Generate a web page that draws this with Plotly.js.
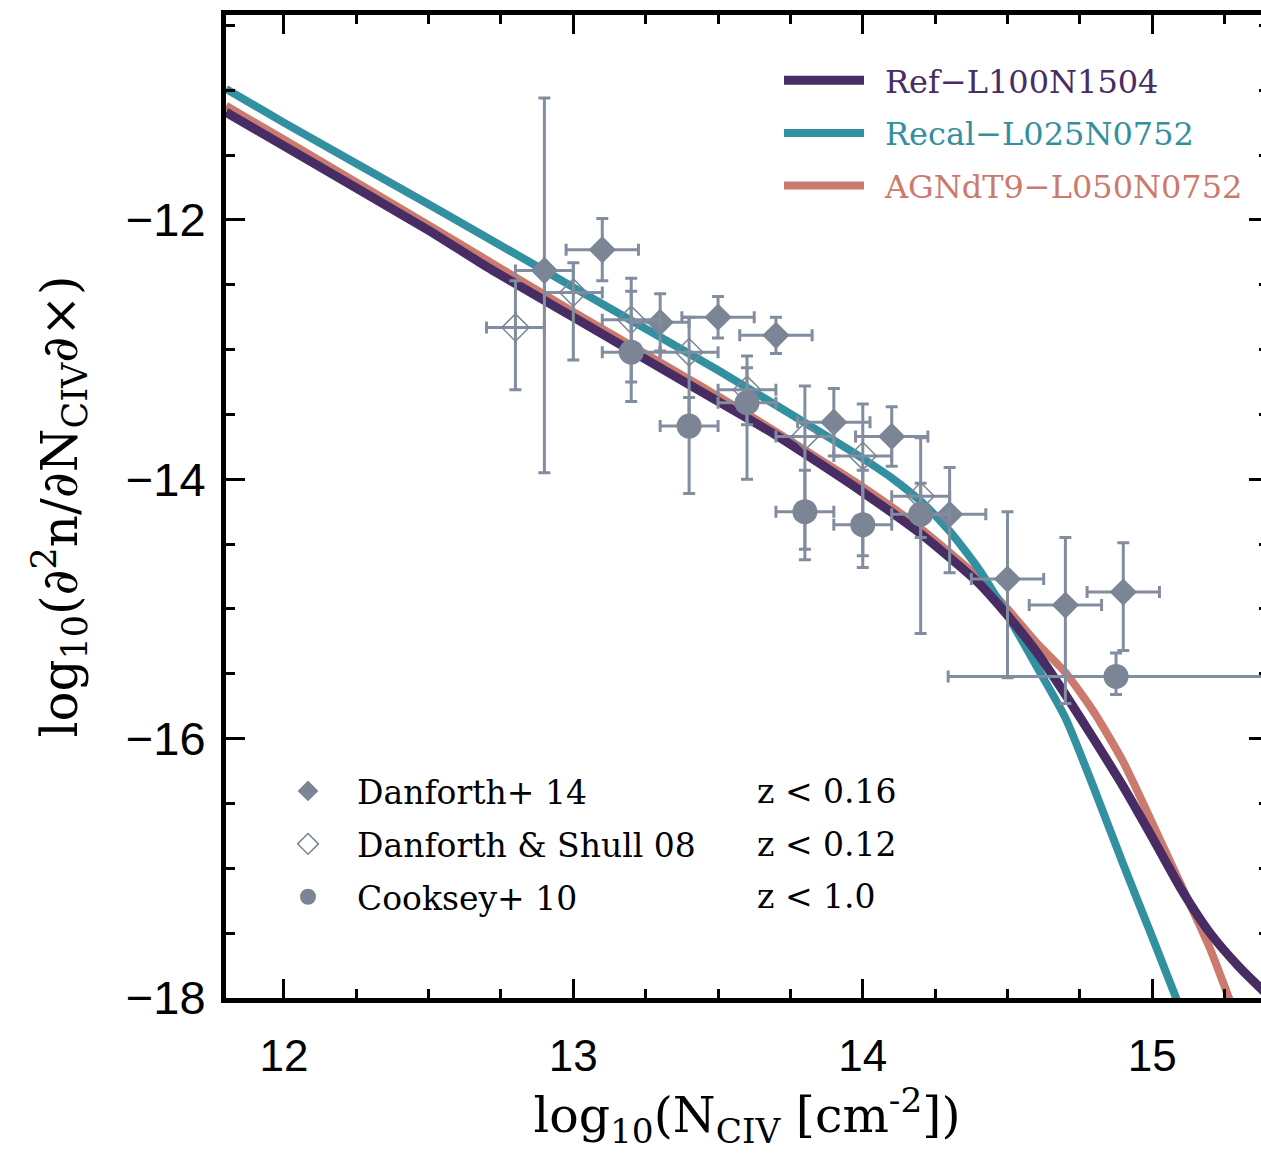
<!DOCTYPE html>
<html>
<head>
<meta charset="utf-8">
<script src="https://cdn.plot.ly/plotly-3.0.1.min.js"></script>
<style>
html, body { margin:0; padding:0; overflow:hidden; background:#fff; }
#chart { width:1275px; height:1160px; }
</style>
</head>
<body>
<div id="chart"></div>
<script>
// ---- model curves ----
const refX = [11.8, 12.0, 12.5, 12.7, 13.0, 13.4, 13.7, 13.9, 14.0, 14.2, 14.4, 14.5, 14.6, 14.7, 14.8, 14.9, 15.0, 15.1, 15.2, 15.3, 15.4];
const refY = [-11.17, -11.43, -12.08, -12.36, -12.75, -13.27, -13.66, -13.95, -14.10, -14.42, -14.80, -15.05, -15.33, -15.66, -16.01, -16.37, -16.76, -17.16, -17.50, -17.76, -17.98];

const recalX = [11.8, 12.0, 12.5, 12.9, 13.0, 13.5, 13.9, 14.0, 14.1, 14.2, 14.3, 14.4, 14.5, 14.6, 14.7, 14.8, 14.9, 15.0, 15.1];
const recalY = [-10.99, -11.25, -11.88, -12.39, -12.52, -13.16, -13.70, -13.84, -13.99, -14.17, -14.40, -14.69, -15.05, -15.44, -15.84, -16.39, -16.97, -17.53, -18.10];

const agnX = [11.8, 12.0, 12.5, 13.0, 13.5, 14.0, 14.2, 14.4, 14.5, 14.6, 14.7, 14.8, 14.9, 15.0, 15.1, 15.2, 15.26, 15.3];
const agnY = [-11.12, -11.38, -12.04, -12.71, -13.36, -14.06, -14.38, -14.76, -15.00, -15.26, -15.49, -15.80, -16.18, -16.65, -17.13, -17.62, -17.97, -18.20];

// ---- observations ----
const danf14X = [12.9, 13.1, 13.3, 13.5, 13.7, 13.9, 14.1, 14.3, 14.5, 14.7, 14.9];
const danf14Y = [-12.39, -12.23, -12.79, -12.75, -12.89, -13.56, -13.67, -14.27, -14.77, -14.97, -14.87];
const danf14Yup = [1.33, 0.24, 0.22, 0.16, 0.14, 0.26, 0.23, 0.36, 0.52, 0.52, 0.38];
const danf14Ylo = [1.56, 0.24, 0.22, 0.16, 0.14, 0.26, 0.23, 0.45, 0.76, 0.76, 0.45];
const danf14Xerr = [0.1, 0.125, 0.1, 0.125, 0.125, 0.125, 0.125, 0.125, 0.125, 0.125, 0.125];

const ds08X = [12.8, 13.0, 13.2, 13.4, 13.6, 13.8, 14.0, 14.2];
const ds08Y = [-12.83, -12.56, -12.77, -13.02, -13.31, -13.67, -13.82, -14.13];
const ds08Yup = [0.36, 0.23, 0.22, 0.27, 0.17, 0.39, 0.40, 0.10];
const ds08Ylo = [0.48, 0.52, 0.48, 0.50, 0.27, 0.95, 0.77, 0.32];
const ds08Xerr = [0.1, 0.1, 0.1, 0.1, 0.1, 0.1, 0.1, 0.1];

const cookX = [13.2, 13.4, 13.6, 13.8, 14.0, 14.2, 14.875];
const cookY = [-13.02, -13.59, -13.41, -14.25, -14.35, -14.27, -15.52];
const cookYup = [0.57, 0.22, 0.36, 0.32, 0.42, 0.59, 0.18];
const cookYlo = [0.38, 0.52, 0.59, 0.29, 0.33, 0.92, 0.14];
const cookXerr = [0.1, 0.1, 0.1, 0.1, 0.1, 0.1, 0.58];

// ---- labels ----
const modelNames = ['Ref\u2212L100N1504', 'Recal\u2212L025N0752', 'AGNdT9\u2212L050N0752'];
const obsNames = ['Danforth+ 14', 'Danforth &amp; Shull 08', 'Cooksey+ 10'];
const obsRedshift = ['z &lt; 0.16', 'z &lt; 0.12', 'z &lt; 1.0'];
const xTickVals = [12, 13, 14, 15];
const yTickVals = [-18, -16, -14, -12];

const cRef = '#472d63', cRecal = '#3390a1', cAgn = '#cc7a6d';
const cObs = '#7b8596', cErr = '#838da0';
const serif = 'DejaVu Serif';

function colored(name, c) { return '<span style="color:' + c + '">\u2002' + name + '</span>'; }

function obsTrace(x, y, up, lo, xe, name, symbol, size, group) {
  return {
    x: x, y: y, type: 'scatter', mode: 'markers', name: name,
    legend: 'legend2', legendgroup: group,
    marker: { symbol: symbol, size: size, color: cObs, line: { color: cObs, width: symbol.indexOf('open') >= 0 ? 1.5 : 0 } },
    error_y: { type: 'data', symmetric: false, array: up, arrayminus: lo, color: cErr, thickness: 3, width: 6 },
    error_x: { type: 'data', array: xe, color: cErr, thickness: 3, width: 6 },
    hoverinfo: 'x+y'
  };
}

const traces = [
  { x: agnX, y: agnY, type: 'scatter', mode: 'lines', name: colored(modelNames[2], cAgn), legendrank: 3, legendgroup: 'a',
    line: { color: cAgn, width: 8, shape: 'spline', smoothing: 0.6 } },
  { x: recalX, y: recalY, type: 'scatter', mode: 'lines', name: colored(modelNames[1], cRecal), legendrank: 2, legendgroup: 'b',
    line: { color: cRecal, width: 8, shape: 'spline', smoothing: 0.6 } },
  { x: refX, y: refY, type: 'scatter', mode: 'lines', name: colored(modelNames[0], cRef), legendrank: 1, legendgroup: 'c',
    line: { color: cRef, width: 9, shape: 'spline', smoothing: 0.6 } },
  obsTrace(danf14X, danf14Y, danf14Yup, danf14Ylo, danf14Xerr, obsNames[0], 'diamond', 21, 'd'),
  obsTrace(ds08X, ds08Y, ds08Yup, ds08Ylo, ds08Xerr, obsNames[1], 'diamond-open', 21, 'e'),
  obsTrace(cookX, cookY, cookYup, cookYlo, cookXerr, obsNames[2], 'circle', 25, 'f')
];

const rowY = [791, 844, 896];
function py(p) { return 1 - (p - 15) / 983; }
function px(p) { return (p - 226) / 1042; }

const annotations = obsRedshift.map((t, i) => ({
  text: t, xref: 'paper', yref: 'paper', x: px(755), y: py(rowY[i]),
  xanchor: 'left', yanchor: 'middle', showarrow: false,
  font: { family: serif, size: 33, color: '#000' }
}));

const layout = {
  width: 1275, height: 1160,
  margin: { l: 226, r: 7, t: 15, b: 162, pad: 0 },
  paper_bgcolor: '#fff', plot_bgcolor: '#fff',
  showlegend: true,
  xaxis: {
    range: [11.8, 15.4], tickmode: 'array', tickvals: xTickVals,
    ticks: 'inside', ticklen: 19, tickwidth: 3, tickcolor: '#000',
    showline: true, linewidth: 5, linecolor: '#000', mirror: 'ticks',
    showgrid: false, zeroline: false,
    minor: { dtick: 0.25, tick0: 12, ticks: 'inside', ticklen: 9, tickwidth: 3, tickcolor: '#000', showgrid: false },
    tickfont: { family: 'Liberation Sans', size: 44, color: '#000' },
    ticklabelstandoff: 15,
    title: { text: 'log<sub>10</sub>(N<sub>CIV</sub> [cm<sup>-2</sup>])', font: { family: serif, size: 49, color: '#000' }, standoff: 20 }
  },
  yaxis: {
    range: [-18, -10.42], tickmode: 'array', tickvals: yTickVals,
    ticks: 'inside', ticklen: 19, tickwidth: 3, tickcolor: '#000',
    showline: true, linewidth: 5, linecolor: '#000', mirror: 'ticks',
    showgrid: false, zeroline: false,
    minor: { dtick: 0.5, tick0: -18, ticks: 'inside', ticklen: 9, tickwidth: 3, tickcolor: '#000', showgrid: false },
    tickfont: { family: 'Liberation Sans', size: 47, color: '#000' },
    ticklabelstandoff: 6,
    title: { text: 'log<sub>10</sub>(\u2202<sup>2</sup>n/\u2202N<sub>CIV</sub>\u2202\u00d7)', font: { family: serif, size: 50, color: '#000' }, standoff: 34 }
  },
  legend: {
    x: px(779), y: py(53), xanchor: 'left', yanchor: 'top',
    bgcolor: 'rgba(0,0,0,0)', borderwidth: 0,
    font: { family: serif, size: 32, color: '#000' },
    itemwidth: 80, tracegroupgap: 8, traceorder: 'grouped'
  },
  legend2: {
    x: px(259), y: py(763), xanchor: 'left', yanchor: 'top',
    bgcolor: 'rgba(0,0,0,0)', borderwidth: 0,
    font: { family: serif, size: 33, color: '#000' },
    itemwidth: 88, tracegroupgap: 7, traceorder: 'grouped'
  },
  annotations: annotations
};

Plotly.newPlot('chart', traces, layout, { displayModeBar: false, responsive: false });
</script>
</body>
</html>
